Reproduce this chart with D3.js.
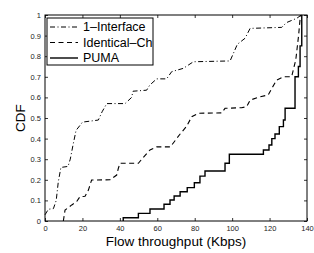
<!DOCTYPE html>
<html>
<head>
<meta charset="utf-8">
<script src="https://cdn.jsdelivr.net/npm/d3@7"></script>
<style>
  body { margin: 0; background: #fff; }
  svg { display: block; font-family: "Liberation Sans", Arial, sans-serif; }
</style>
</head>
<body>
<svg id="cdf" width="314" height="253"></svg>
<script>
// CDF curves: [throughput Kbps, CDF]
var oneInterface = [
  [0, 0.03], [1.8, 0.057], [4.5, 0.06], [6, 0.1], [7.1, 0.19], [8.5, 0.26], [12.3, 0.265],
  [13.5, 0.3], [15, 0.37], [16.6, 0.44], [19.2, 0.47], [20, 0.48], [28.5, 0.49],
  [30.5, 0.53], [33, 0.57], [42.8, 0.57], [46.3, 0.6], [47, 0.63], [54.3, 0.635],
  [56, 0.66], [59.7, 0.69], [65, 0.69], [67.7, 0.725], [73.9, 0.741], [79.3, 0.773],
  [98.9, 0.777], [102.8, 0.858], [106.9, 0.887], [109.6, 0.935], [126.5, 0.94],
  [129, 0.963], [134.5, 0.984], [137, 1]
];
var identicalCh = [
  [9.8, 0], [10.7, 0.053], [14.3, 0.078], [16.9, 0.094], [18.7, 0.118], [21.4, 0.12],
  [23.2, 0.15], [24.9, 0.199], [34.7, 0.2], [38.3, 0.223], [39.2, 0.256], [40.1, 0.28],
  [49.9, 0.28], [51.7, 0.3], [56.1, 0.345], [59.7, 0.36], [67, 0.36], [72, 0.42],
  [75.7, 0.46], [78.4, 0.506], [81.9, 0.523], [94.4, 0.525], [96.2, 0.547], [105, 0.55],
  [107.8, 0.555], [109.6, 0.587], [114.9, 0.603], [119.3, 0.612], [121.2, 0.644],
  [123.8, 0.684], [127.4, 0.7], [131.8, 0.7], [133.1, 0.749], [134, 0.782],
  [135.5, 0.9], [136.5, 1]
];
var puma = [
  [41.8, 0], [41.8, 0.016], [49.9, 0.037], [56.1, 0.058], [63.6, 0.081], [66.8, 0.102],
  [69, 0.121], [72.2, 0.142], [76, 0.162], [79.8, 0.186], [82.8, 0.218], [85.5, 0.243],
  [96.2, 0.28], [98.5, 0.324], [116.7, 0.345], [119.7, 0.369], [121.2, 0.4],
  [122.9, 0.422], [125.2, 0.458], [127.4, 0.49], [128.3, 0.547], [133.6, 0.7],
  [135.4, 0.75], [136.3, 0.85], [137.2, 1], [137.2, 1]
];
var seriesNames = ["1\u2013Interface", "Identical\u2013Ch", "PUMA"];
var xTicks = [0, 20, 40, 60, 80, 100, 120, 140];
var yTicks = [0, 0.1, 0.2, 0.3, 0.4, 0.5, 0.6, 0.7, 0.8, 0.9, 1];

var svg = d3.select("#cdf"),
    margin = {top: 15, right: 7, bottom: 32, left: 45},
    width = +svg.attr("width") - margin.left - margin.right,
    height = +svg.attr("height") - margin.top - margin.bottom,
    g = svg.append("g").attr("transform", "translate(" + margin.left + "," + margin.top + ")");

var x = d3.scaleLinear().domain([0, 140]).range([0, width]);
var y = d3.scaleLinear().domain([0, 1]).range([height, 0]);

function styleAxis(a, labels) {
  a.select(".domain").remove();
  a.selectAll(".tick line").attr("stroke", "#000").attr("stroke-width", 0.8);
  if (labels) {
    a.selectAll(".tick text").attr("fill", "#222").attr("font-size", "7.5px")
      .attr("font-family", "Liberation Sans, Arial, sans-serif");
  } else {
    a.selectAll(".tick text").remove();
  }
}

// MATLAB style: ticks pointing inward on all four sides
g.append("g").attr("transform", "translate(0," + height + ")")
  .call(d3.axisBottom(x).tickValues(xTicks).tickSize(-3).tickPadding(5).tickFormat(d3.format("d")))
  .call(function(a) { styleAxis(a, true); });
g.append("g")
  .call(d3.axisTop(x).tickValues(xTicks).tickSize(-3))
  .call(function(a) { styleAxis(a, false); });
g.append("g")
  .call(d3.axisLeft(y).tickValues(yTicks).tickSize(-3).tickPadding(4).tickFormat(function(d) { return d3.format("")(+d.toFixed(1)); }))
  .call(function(a) { styleAxis(a, true); });
g.append("g").attr("transform", "translate(" + width + ",0)")
  .call(d3.axisRight(y).tickValues(yTicks).tickSize(-3))
  .call(function(a) { styleAxis(a, false); });

g.append("rect")
  .attr("width", width).attr("height", height)
  .attr("fill", "none").attr("stroke", "#000").attr("stroke-width", 1);

var line = d3.line()
  .x(function(d) { return x(d[0]); })
  .y(function(d) { return y(d[1]); });

var styles = [
  {data: oneInterface, dash: "5,2.5,1,2.5", w: 1},
  {data: identicalCh, dash: "5,3.5", w: 1.1},
  {data: puma, dash: null, w: 1.4}
];

styles.forEach(function(s) {
  g.append("path")
    .datum(s.data)
    .attr("fill", "none")
    .attr("stroke", "#000")
    .attr("stroke-width", s.w)
    .attr("stroke-dasharray", s.dash)
    .attr("d", s === styles[2] ? line.curve(d3.curveStepAfter) : line.curve(d3.curveLinear));
});

// legend
var lg = g.append("g").attr("transform", "translate(2,3)");
lg.append("rect")
  .attr("width", 106).attr("height", 47)
  .attr("fill", "#fff").attr("stroke", "#000").attr("stroke-width", 1);
seriesNames.forEach(function(name, i) {
  var yy = 9 + i * 15.5;
  lg.append("line")
    .attr("x1", 3).attr("x2", 31).attr("y1", yy).attr("y2", yy)
    .attr("stroke", "#000")
    .attr("stroke-width", styles[i].w)
    .attr("stroke-dasharray", styles[i].dash);
  lg.append("text")
    .attr("x", 36).attr("y", yy).attr("dy", "0.35em")
    .attr("font-size", "12.5px").attr("fill", "#000")
    .text(name);
});

// axis titles
svg.append("text")
  .attr("x", margin.left + width / 2).attr("y", 246)
  .attr("text-anchor", "middle").attr("font-size", "13.5px")
  .text("Flow throughput (Kbps)");
svg.append("text")
  .attr("transform", "translate(25," + (margin.top + height / 2) + ") rotate(-90)")
  .attr("text-anchor", "middle").attr("font-size", "13.5px")
  .text("CDF");
</script>
</body>
</html>
